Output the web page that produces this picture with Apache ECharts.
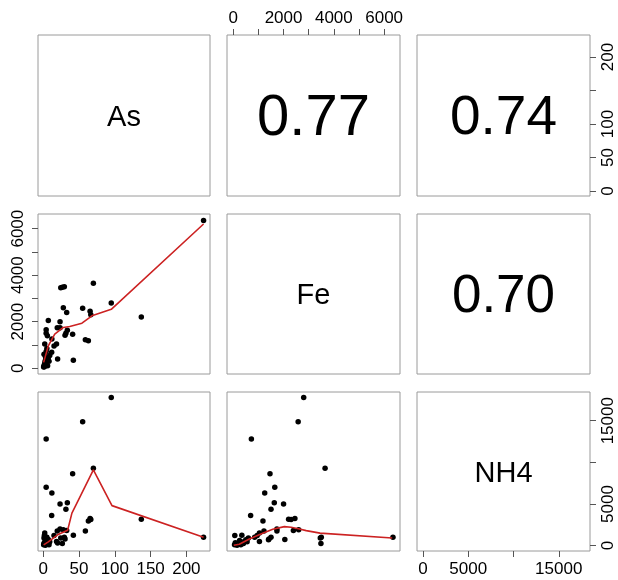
<!DOCTYPE html>
<html>
<head>
<meta charset="utf-8">
<script src="https://cdn.jsdelivr.net/npm/echarts@6/dist/echarts.min.js"></script>
<style>
  html, body { margin: 0; padding: 0; background: #fff; }
  #chart { width: 618px; height: 580px; }
</style>
</head>
<body>
<div id="chart"></div>
<script>
// variable names on the diagonal and correlations in the upper panels
const varNames = ['As', 'Fe', 'NH4'];
const corLabels = ['0.77', '0.74', '0.70'];   // (As,Fe) (As,NH4) (Fe,NH4)
const corSizes = [58, 55, 53];

// sample values
const asVals = [224, 137, 95, 55, 4, 70, 41, 4, 12, 23.4, 33.6, 31.6, 11.7, 63, 58.8, 66.4, 65.4,
  24.4, 26.6, 29.4, 28, 32.7, 7, 23.4, 19.5, 4, 5.7, 2, 18.5, 42, 30.4,
  0.5, 1, 1.5, 2, 2.5, 3, 3.5, 4, 5, 6, 7, 8, 1, 3, 5, 9, 15, 20, 1.5];
const feVals = [6350, 2200, 2800, 2580, 720, 3650, 1460, 1650, 1250, 2000, 1630, 1500, 690, 1180, 1220, 2300, 2450,
  3460, 3485, 3500, 2600, 2390, 2050, 1735, 1735, 1500, 1400, 1040, 1040, 340, 1420,
  50, 120, 80, 200, 300, 150, 400, 250, 350, 100, 450, 300, 600, 500, 850, 550, 950, 400, 60];
const nh4Vals = [1000, 3150, 17800, 14870, 12800, 9300, 8630, 7000, 6320, 5000, 5160, 4360, 3600, 2960, 1760, 3120, 3250,
  900, 240, 1000, 1900, 1800, 720, 2000, 1760, 1000, 700, 1500, 500, 1250, 800,
  100, 250, 350, 150, 450, 50, 250, 600, 350, 200, 500, 100, 900, 700, 1000, 450, 1200, 300, 1200];

// red smoother lines
const smoothAsFe = [[0.5, 250], [7, 960], [16, 1460], [28, 1750], [37, 1790], [54, 1935], [68, 2250], [95, 2530], [224, 6200]];
const smoothAsNH4 = [[0.5, 80], [7, 450], [20, 1300], [34, 1850], [40, 3900], [70, 9100], [96, 4800], [224, 1000]];
const smoothFeNH4 = [[20, 50], [240, 160], [640, 800], [1170, 1480], [1570, 1960], [2030, 2280], [2300, 2200],
  [2630, 2000], [2900, 1800], [3450, 1500], [6320, 920]];

// axis limits and ticks
const asRange = [-7.4, 233];
const feRange = [-250, 6630];
const nh4Range = [-650, 18450];
const asTicks = [0, 50, 100, 150, 200];
const asRightLabels = [0, 50, 100, 200];
const feTicks = [0, 1000, 2000, 3000, 4000, 5000, 6000];
const feLabels = [0, 2000, 4000, 6000];
const nh4Ticks = [0, 5000, 10000, 15000];
const nh4Labels = [0, 5000, 15000];

const FONT = 'Liberation Sans, Arial, sans-serif';
const ranges = [asRange, feRange, nh4Range];
const values = [asVals, feVals, nh4Vals];
const smooth = { '1,0': smoothAsFe, '2,0': smoothAsNH4, '2,1': smoothFeNH4 };

// panel layout
const gx = [38, 227, 417], gy = [35, 214, 392];
const gw = [172, 173, 173], gh = [161, 160, 159];

// which panel edges carry an axis
const xSpec = {
  '0,1': { position: 'top', ticks: feTicks, labels: feLabels, margin: 8 },
  '2,0': { position: 'bottom', ticks: asTicks, labels: asTicks, margin: 10 },
  '2,2': { position: 'bottom', ticks: nh4Ticks, labels: nh4Labels, margin: 10 }
};
const ySpec = {
  '1,0': { position: 'left', ticks: feTicks, labels: feLabels, margin: 11 },
  '0,2': { position: 'right', ticks: asTicks, labels: asRightLabels, margin: 10 },
  '2,2': { position: 'right', ticks: nh4Ticks, labels: nh4Labels, margin: 10 }
};

function makeAxis(gridIndex, range, spec, isY) {
  const a = {
    gridIndex, type: 'value', min: range[0], max: range[1],
    splitLine: { show: false },
    axisLine: { show: false, onZero: false },
    axisTick: { show: false },
    axisLabel: { show: false }
  };
  if (spec) {
    a.position = spec.position;
    a.axisTick = { show: true, customValues: spec.ticks, length: 6, lineStyle: { color: '#555' } };
    a.axisLabel = {
      show: true, customValues: spec.labels, margin: spec.margin, fontSize: 17,
      color: '#000', fontFamily: FONT, rotate: isY ? 90 : 0,
      formatter: v => String(v)
    };
  }
  return a;
}

const grids = [], xAxes = [], yAxes = [], series = [], texts = [];
let corIdx = 0;
for (let r = 0; r < 3; r++) {
  for (let c = 0; c < 3; c++) {
    const i = r * 3 + c;
    const key = r + ',' + c;
    grids.push({
      left: gx[c], top: gy[r], width: gw[c], height: gh[r],
      show: true, borderColor: '#9a9a9a', borderWidth: 1
    });
    xAxes.push(makeAxis(i, ranges[c], xSpec[key], false));
    yAxes.push(makeAxis(i, ranges[r], ySpec[key], true));

    const cx = gx[c] + gw[c] / 2, cy = gy[r] + gh[r] / 2;
    if (r === c) {
      texts.push({ type: 'text', x: cx, y: cy + 2,
        style: { text: varNames[r], fontSize: 29, fontFamily: FONT, fill: '#000',
          align: 'center', verticalAlign: 'middle', textAlign: 'center', textVerticalAlign: 'middle' } });
    } else if (r < c) {
      texts.push({ type: 'text', x: cx, y: cy + 3,
        style: { text: corLabels[corIdx], fontSize: corSizes[corIdx], fontFamily: FONT, fill: '#000',
          align: 'center', verticalAlign: 'middle', textAlign: 'center', textVerticalAlign: 'middle' } });
      corIdx++;
    } else {
      const pts = values[c].map((v, k) => [v, values[r][k]]);
      series.push({
        type: 'scatter', xAxisIndex: i, yAxisIndex: i, data: pts,
        symbolSize: 5.5, itemStyle: { color: '#000', opacity: 1 }, z: 2, silent: true
      });
      series.push({
        type: 'line', xAxisIndex: i, yAxisIndex: i, data: smooth[key],
        symbol: 'none', lineStyle: { color: '#cc2222', width: 1.6 }, z: 3, silent: true
      });
    }
  }
}

const chart = echarts.init(document.getElementById('chart'));
chart.setOption({
  animation: false,
  backgroundColor: '#fff',
  grid: grids,
  xAxis: xAxes,
  yAxis: yAxes,
  series: series,
  graphic: texts
});
</script>
</body>
</html>
